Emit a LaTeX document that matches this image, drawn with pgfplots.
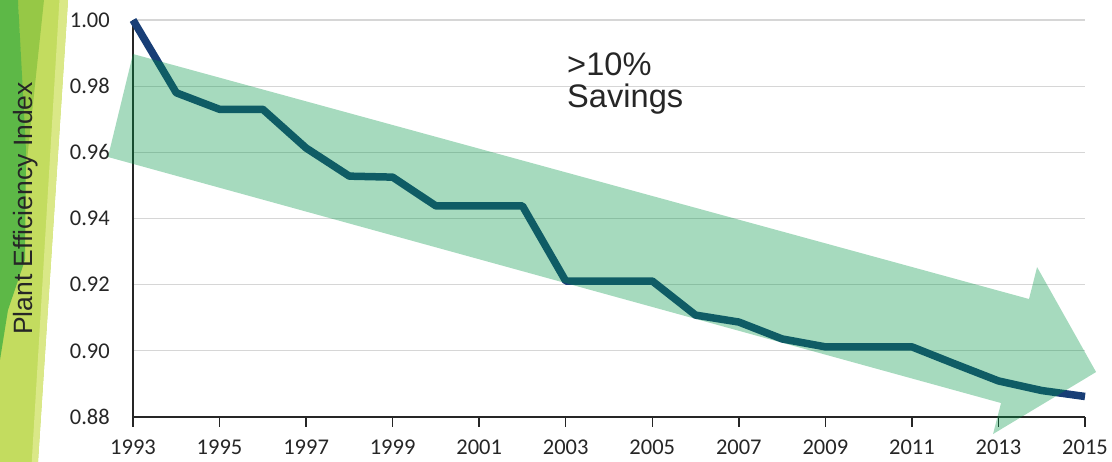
\documentclass[border=0pt]{standalone}
\usepackage{pgfplots}
\pgfplotsset{compat=1.18}
\usepackage{fontspec}
\setmainfont{Liberation Sans}
\newfontfamily\carlito{Carlito}
\definecolor{linecol}{RGB}{24,62,118}
\definecolor{arrowcol}{RGB}{0,150,70}
\definecolor{txt}{RGB}{38,38,38}
\definecolor{dgreen}{RGB}{93,184,71}
\definecolor{mgreen}{RGB}{150,200,70}
\definecolor{ygreen}{RGB}{195,220,95}
\definecolor{pgreen}{RGB}{218,232,135}
\begin{document}
\begin{tikzpicture}
\path[use as bounding box] (-133pt,-45pt) rectangle (979pt,417pt);
\begin{axis}[
  scale only axis, width=952pt, height=397pt,
  xmin=1993, xmax=2015, ymin=0.88, ymax=1.00,
  clip=false,
  axis x line=bottom, axis y line=left,
  axis line style={-, line width=1.6pt, draw=txt},
  xtick={1993,1995,...,2015},
  ytick={0.88,0.90,...,1.001},
  tick align=outside, major tick length=10pt,
  xtick style={line width=1.4pt, draw=txt},
  ytick style={draw=none},
  ymajorgrids, grid style={draw=black!16, line width=1.2pt},
  /pgf/number format/assume math mode=true,
  /pgf/number format/1000 sep={},
  ticklabel style={font=\carlito\fontsize{22.5}{27}\selectfont, text=txt, inner sep=0pt},
  xticklabel style={yshift=-13pt},
  yticklabel style={xshift=-13pt},
  yticklabel={\pgfmathprintnumber[fixed,fixed zerofill,precision=2]{\tick}},
]
% decorative band on the left
\addplot[draw=none, fill=ygreen] coordinates {(1989.926,1.00605) (1991.498,1.00605) (1990.804,0.86638) (1989.926,0.86638)} --cycle;
\addplot[draw=none, fill=pgreen] coordinates {(1991.30,1.00605) (1991.498,1.00605) (1990.804,0.86638) (1990.66,0.86638)} --cycle;
\addplot[draw=none, fill=mgreen] coordinates {(1990.342,1.00605) (1990.943,1.00605) (1990.527,0.95466)} --cycle;
\addplot[draw=none, fill=dgreen] coordinates {(1989.926,1.00605) (1990.342,1.00605) (1990.527,0.96070) (1990.504,0.92745) (1990.111,0.91233) (1989.926,0.89722)} --cycle;
% efficiency index line
\addplot[linecol, line width=7.5pt, line join=round] coordinates {
(1993,1.000) (1994,0.978) (1995,0.973) (1996,0.973) (1997,0.9613)
(1998,0.9528) (1999,0.9525) (2000,0.9438) (2001,0.9438) (2002,0.9438)
(2003,0.9211) (2004,0.9211) (2005,0.9211) (2006,0.9108) (2007,0.9087)
(2008,0.9036) (2009,0.9012) (2010,0.9012) (2011,0.9012) (2012,0.8960)
(2013,0.8909) (2014,0.8880) (2015,0.8862)};
% big arrow
\addplot[draw=none, fill=arrowcol, fill opacity=0.35] coordinates {
(1992.422,0.95859) (1993,0.98972) (2013.707,0.91566) (2013.892,0.92533)
(2015.256,0.89359) (2012.875,0.87485) (2013.060,0.88422)} --cycle;
% texts
\node[anchor=base west, inner sep=0pt, text=txt, font=\fontsize{32.6}{33}\selectfont] at (axis cs:2003.03,0.98337) {>10\%};
\node[anchor=base west, inner sep=0pt, text=txt, font=\fontsize{32.6}{33}\selectfont] at (axis cs:2003.03,0.97340) {Savings};
\node[anchor=base, rotate=90, inner sep=0pt, text=txt, font=\fontsize{26.5}{30}\selectfont] at (axis cs:1990.689,0.94302) {Plant Efficiency Index};
\end{axis}
\end{tikzpicture}
\end{document}
